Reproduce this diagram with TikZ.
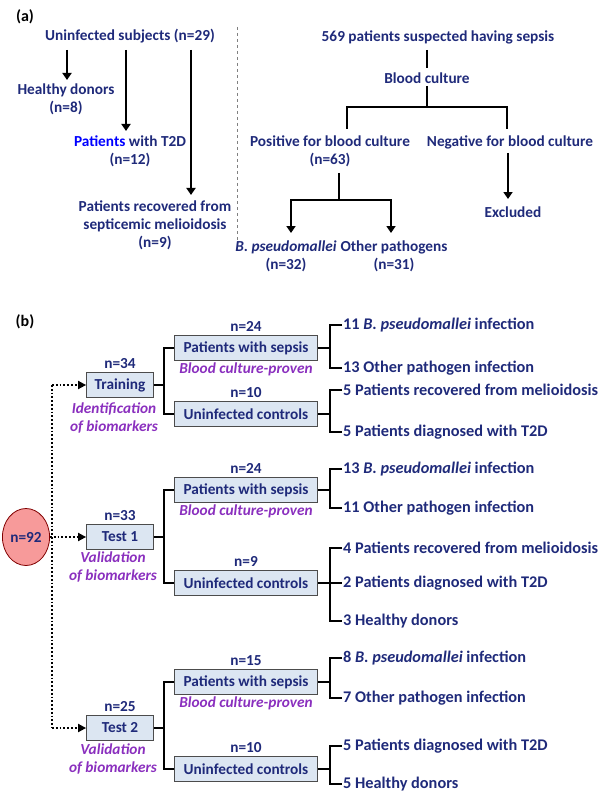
\documentclass[tikz,border=0pt]{standalone}
\usepackage{fontspec}
\setmainfont{Carlito}
\usetikzlibrary{positioning,arrows.meta,shapes.geometric}
\definecolor{navy}{HTML}{1F2A7A}
\definecolor{lila}{HTML}{8A2FBE}
\definecolor{boxfill}{HTML}{DCE6F2}
\definecolor{pinkfill}{HTML}{F79A9A}
\begin{document}
\begin{tikzpicture}[x=1pt,y=-1pt,
  txt/.style={text=navy, font=\bfseries\fontsize{15.3}{18}\selectfont, align=center, inner sep=1pt},
  leaf/.style={txt, anchor=west, font=\bfseries\fontsize{16.3}{18}\selectfont},
  note/.style={text=lila, font=\bfseries\itshape\fontsize{15.3}{18}\selectfont, align=center, inner sep=1pt},
  box/.style={draw=black!70, fill=boxfill, thick, minimum height=25pt, txt, inner sep=2pt},
  arr/.style={line width=2.2pt, -{Triangle[length=7pt,width=9pt]}},
  brk/.style={line width=1.4pt},
  dots/.style={line width=1.8pt, dotted, -{Triangle[length=8pt,width=8pt]}}]
\useasboundingbox (0,0) rectangle (600,805);

% (a)
\node[font=\bfseries\fontsize{16}{18}\selectfont] (la) at (25,17) {(a)};
\draw[dashed, thick, gray] (237,27) -- (237,250);
\node[txt] (unf) at (130,36) {Uninfected subjects (n=29)};
\node[txt] (hd) at (66,99) {Healthy donors\\(n=8)};
\node[txt] (t2d) at (130,151) {\textcolor{blue}{Patients} with T2D\\(n=12)};
\node[txt] (rec) at (155,225) {Patients recovered from\\septicemic melioidosis\\(n=9)};
\draw[arr] (67,50) -- (67,80);
\draw[arr] (126,50) -- (126,131);
\draw[arr] (191,50) -- (191,195);

\node[txt] (sus) at (438,37) {569 patients suspected having sepsis};
\node[txt] (bc) at (427,78) {Blood culture};
\node[txt] (pos) at (330,151) {Positive for blood culture\\(n=63)};
\node[txt] (neg) at (510,142) {Negative for blood culture};
\node[txt] (exc) at (513,212) {Excluded};
\node[txt] (bp) at (286,256) {\textit{B. pseudomallei}\\(n=32)};
\node[txt] (oth) at (394,256) {Other pathogens\\(n=31)};
\draw[line width=2.2pt] (427,50) -- (427,68);
\draw[line width=2.2pt] (427,86) -- (427,107) coordinate (bcj);
\draw[line width=2.2pt] (347,129) |- (bcj) -| (507,129);
\draw[line width=2.2pt] (339,173) -- (339,200) coordinate (posj);
\draw[arr] (posj) -| (291,233);
\draw[arr] (posj) -| (391,233);
\draw[arr] (508,153) -- (508,199);

% (b)
\node[font=\bfseries\fontsize{16}{18}\selectfont] (lb) at (25,322) {(b)};
\node[ellipse, draw=red!50!black, fill=pinkfill, thick, minimum width=37pt, minimum height=57pt, inner sep=0pt, txt] (all) at (26,537) {n=92};

\node[box, minimum width=67pt] (tr) at (120,385) {Training};
\node[box, minimum width=67pt] (t1) at (120,537) {Test 1};
\node[box, minimum width=67pt] (t2) at (120,728) {Test 2};
\node[txt, above=2pt of tr] {n=34};
\node[txt, above=2pt of t1] {n=33};
\node[txt, above=2pt of t2] {n=25};
\node[note] at (114,418) {Identification\\of biomarkers};
\node[note] at (113,567) {Validation\\of biomarkers};
\node[note] at (113,759) {Validation\\of biomarkers};

\coordinate (top) at (52,385);
\coordinate (bot) at (52,728);
\draw[line width=1.8pt, dotted] (top) -- (bot);
\draw[dots] (top) -- (tr.west);
\draw[dots] (all.east) -- (t1.west);
\draw[dots] (bot) -- (t2.west);

% groups
\node[box, minimum width=143pt] (s0) at (246,348) {Patients with sepsis};
\node[box, minimum width=143pt] (u0) at (246,414) {Uninfected controls};
\node[box, minimum width=143pt] (s1) at (246,490) {Patients with sepsis};
\node[box, minimum width=143pt] (u1) at (246,583) {Uninfected controls};
\node[box, minimum width=143pt] (s2) at (246,682) {Patients with sepsis};
\node[box, minimum width=143pt] (u2) at (246,769) {Uninfected controls};
\foreach \b/\n in {s0/24,u0/10,s1/24,u1/9,s2/15,u2/10}
  \node[txt, above=2pt of \b] {n=\n};
\foreach \b in {s0,s1,s2}
  \node[note, below=1pt of \b] {Blood culture-proven};

\foreach \t/\s/\u in {tr/s0/u0, t1/s1/u1, t2/s2/u2}
  \draw[brk] (\t.east) -- ++(10,0) coordinate (j\t)
    (\s.west) -| (j\t) |- (\u.west);

% leaves
\node[leaf] (a1) at (342,325) {11 \textit{B. pseudomallei} infection};
\node[leaf] (a2) at (342,368) {13 Other pathogen infection};
\node[leaf] (a3) at (342,390) {5 Patients recovered from melioidosis};
\node[leaf] (a4) at (342,432) {5 Patients diagnosed with T2D};
\node[leaf] (b1) at (342,469) {13 \textit{B. pseudomallei} infection};
\node[leaf] (b2) at (342,508) {11 Other pathogen infection};
\node[leaf] (b3) at (342,548) {4 Patients recovered from melioidosis};
\node[leaf] (b4) at (342,583) {2 Patients diagnosed with T2D};
\node[leaf] (b5) at (342,621) {3 Healthy donors};
\node[leaf] (c1) at (342,658) {8 \textit{B. pseudomallei} infection};
\node[leaf] (c2) at (342,698) {7 Other pathogen infection};
\node[leaf] (c3) at (342,746) {5 Patients diagnosed with T2D};
\node[leaf] (c4) at (342,784) {5 Healthy donors};

\foreach \g/\x/\y in {s0/a1/a2, u0/a3/a4, s1/b1/b2, s2/c1/c2, u2/c3/c4}
  \draw[brk] (\g.east) -- (330,0 |- \g.east)
    (\x.west) -- (330,0 |- \x.west) -- (330,0 |- \y.west) -- (\y.west);
\draw[brk] (u1.east) -- (330,0 |- u1.east)
  (b3.west) -- (330,0 |- b3.west) -- (330,0 |- b5.west) -- (b5.west)
  (330,0 |- b4.west) -- (b4.west);
\end{tikzpicture}
\end{document}
